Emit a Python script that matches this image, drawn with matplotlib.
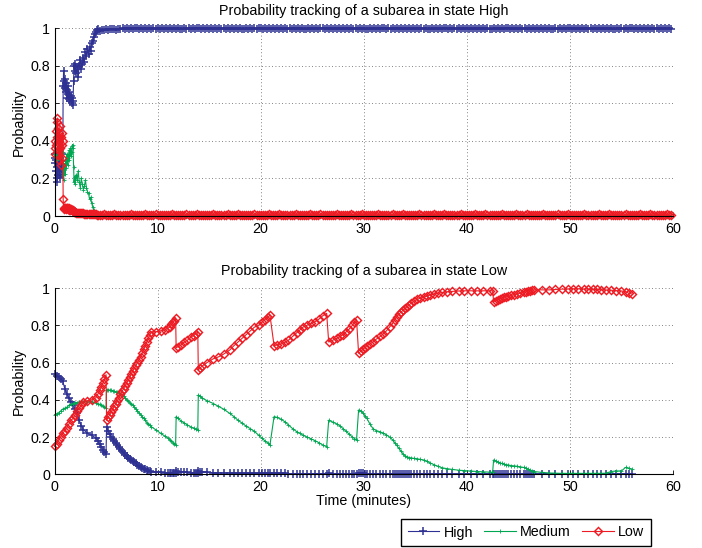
import matplotlib
matplotlib.use("Agg")
import matplotlib.pyplot as plt

plt.rcParams['font.family'] = ['Liberation Sans', 'DejaVu Sans']

BLUE = '#2E3192'
GREEN = '#00A651'
RED = '#ED1C24'

series_names = ['High', 'Medium', 'Low']
titles = ['Probability tracking of a subarea in state High',
          'Probability tracking of a subarea in state Low']
x_ticks = [0, 10, 20, 30, 40, 50, 60]
y_ticks = [0, 0.2, 0.4, 0.6, 0.8, 1.0]
y_tick_labels = ['0', '0.2', '0.4', '0.6', '0.8', '1']

# ---------------- top panel (state High) : first minutes ----------------
t_top_early = [
    0.00, 0.04, 0.08, 0.12, 0.16, 0.20, 0.24, 0.28, 0.32, 0.36, 0.40,
    0.44, 0.48, 0.52, 0.56, 0.60, 0.64, 0.68, 0.72, 0.76, 0.80,
    0.84, 0.88, 0.95, 1.0, 1.05, 1.1, 1.15, 1.2, 1.25, 1.3,
    1.35, 1.4, 1.45, 1.5, 1.55, 1.6, 1.65, 1.7, 1.75, 1.8,
    1.85, 1.9, 1.95, 2.0, 2.1, 2.2, 2.3, 2.4, 2.5, 2.6, 2.7,
    2.8, 2.9, 3.0, 3.1, 3.2, 3.3, 3.4, 3.5, 3.6,
    3.7, 3.8, 3.9, 4.0, 4.1, 4.2,
]
high_top_early = [
    0.31, 0.28, 0.33, 0.24, 0.30, 0.20, 0.26, 0.18, 0.22, 0.30, 0.24,
    0.33, 0.27, 0.21, 0.31, 0.36, 0.25, 0.29, 0.33, 0.22, 0.26,
    0.69, 0.77, 0.72, 0.68, 0.73, 0.66, 0.71, 0.63, 0.67, 0.69,
    0.65, 0.62, 0.66, 0.63, 0.61, 0.64, 0.63, 0.60, 0.59, 0.61,
    0.72, 0.80, 0.77, 0.81, 0.76, 0.79, 0.74, 0.80, 0.83, 0.78, 0.81,
    0.84, 0.82, 0.87, 0.85, 0.89, 0.86, 0.90, 0.88, 0.92,
    0.93, 0.95, 0.97, 0.98, 0.99, 0.995,
]
medium_top_early = [
    0.33, 0.32, 0.34, 0.31, 0.32, 0.30, 0.32, 0.30, 0.31, 0.35, 0.32,
    0.37, 0.33, 0.31, 0.33, 0.37, 0.33, 0.33, 0.36, 0.34, 0.34,
    0.22, 0.19, 0.245, 0.28, 0.225, 0.30, 0.255, 0.33, 0.29, 0.27,
    0.31, 0.35, 0.30, 0.33, 0.36, 0.32, 0.34, 0.37, 0.38, 0.36,
    0.26, 0.18, 0.21, 0.17, 0.22, 0.19, 0.24, 0.18, 0.15, 0.20, 0.17,
    0.14, 0.16, 0.19, 0.15, 0.13, 0.12, 0.09, 0.10, 0.07,
    0.05, 0.03, 0.015, 0.005, 0.0, 0.0,
]
low_top_early = [
    0.36, 0.40, 0.33, 0.45, 0.38, 0.50, 0.42, 0.52, 0.47, 0.35, 0.44,
    0.30, 0.40, 0.48, 0.36, 0.27, 0.42, 0.38, 0.31, 0.44, 0.40,
    0.09, 0.04, 0.035, 0.04, 0.045, 0.04, 0.035, 0.04, 0.045, 0.04,
    0.035, 0.03, 0.04, 0.035, 0.03, 0.035, 0.03, 0.03, 0.025, 0.03,
    0.025, 0.02, 0.02, 0.02, 0.018, 0.018, 0.016, 0.016, 0.015, 0.015, 0.014,
    0.014, 0.013, 0.013, 0.012, 0.012, 0.011, 0.011, 0.010, 0.010,
    0.010, 0.009, 0.008, 0.008, 0.007, 0.006,
]

# ---------------- top panel (state High) : settled part ----------------
t_top_late = [
    4.4, 4.6, 4.8, 5.0, 5.2, 5.4, 5.6, 5.8, 6.0, 6.2,
    6.4, 6.6, 6.8, 7.0, 7.2, 7.4, 7.6, 7.8, 8.0, 8.2,
    8.4, 8.6, 8.8, 9.0, 9.2, 9.4, 9.6, 9.8, 10.0, 10.2,
    10.4, 10.6, 10.8, 11.0, 11.2, 11.4, 11.6, 11.8, 12.0, 12.2,
    12.4, 12.6, 12.8, 13.0, 13.2, 13.4, 13.6, 13.8, 14.0, 14.2,
    14.4, 14.6, 14.8, 15.0, 15.2, 15.4, 15.6, 15.8, 16.0, 16.2,
    16.4, 16.6, 16.8, 17.0, 17.2, 17.4, 17.6, 17.8, 18.0, 18.2,
    18.4, 18.6, 18.8, 19.0, 19.2, 19.4, 19.6, 19.8, 20.0, 20.2,
    20.4, 20.6, 20.8, 21.0, 21.2, 21.4, 21.6, 21.8, 22.0, 22.2,
    22.4, 22.6, 22.8, 23.0, 23.2, 23.4, 23.6, 23.8, 24.0, 24.2,
    24.4, 24.6, 24.8, 25.0, 25.2, 25.4, 25.6, 25.8, 26.0, 26.2,
    26.4, 26.6, 26.8, 27.0, 27.2, 27.4, 27.6, 27.8, 28.0, 28.2,
    28.4, 28.6, 28.8, 29.0, 29.2, 29.4, 29.6, 29.8, 30.0, 30.2,
    30.4, 30.6, 30.8, 31.0, 31.2, 31.4, 31.6, 31.8, 32.0, 32.2,
    32.4, 32.6, 32.8, 33.0, 33.2, 33.4, 33.6, 33.8, 34.0, 34.2,
    34.4, 34.6, 34.8, 35.0, 35.2, 35.4, 35.6, 35.8, 36.0, 36.2,
    36.4, 36.6, 36.8, 37.0, 37.2, 37.4, 37.6, 37.8, 38.0, 38.2,
    38.4, 38.6, 38.8, 39.0, 39.2, 39.4, 39.6, 39.8, 40.0, 40.2,
    40.4, 40.6, 40.8, 41.0, 41.2, 41.4, 41.6, 41.8, 42.0, 42.2,
    42.4, 42.6, 42.8, 43.0, 43.2, 43.4, 43.6, 43.8, 44.0, 44.2,
    44.4, 44.6, 44.8, 45.0, 45.2, 45.4, 45.6, 45.8, 46.0, 46.2,
    46.4, 46.6, 46.8, 47.0, 47.2, 47.4, 47.6, 47.8, 48.0, 48.2,
    48.4, 48.6, 48.8, 49.0, 49.2, 49.4, 49.6, 49.8, 50.0, 50.2,
    50.4, 50.6, 50.8, 51.0, 51.2, 51.4, 51.6, 51.8, 52.0, 52.2,
    52.4, 52.6, 52.8, 53.0, 53.2, 53.4, 53.6, 53.8, 54.0, 54.2,
    54.4, 54.6, 54.8, 55.0, 55.2, 55.4, 55.6, 55.8, 56.0, 56.2,
    56.4, 56.6, 56.8, 57.0, 57.2, 57.4, 57.6, 57.8, 58.0, 58.2,
    58.4, 58.6, 58.8, 59.0, 59.2, 59.4, 59.6, 59.8,
]
high_top_late = [
    0.985, 0.990, 0.988, 0.994, 0.990, 0.996, 0.993, 0.997, 0.991, 0.995,
    0.997, 1.000, 0.993, 0.999, 0.996, 1.000, 0.994, 0.998, 1.000, 0.995,
    0.999, 0.995, 1.000, 0.993, 0.998, 0.997, 1.000, 0.994, 0.999, 0.996,
    1.000, 0.994, 0.998, 0.996, 1.000, 0.993, 0.999, 0.997, 1.000, 0.995,
    0.997, 1.000, 0.993, 0.999, 0.996, 1.000, 0.994, 0.998, 1.000, 0.995,
    0.999, 0.995, 1.000, 0.993, 0.998, 0.997, 1.000, 0.994, 0.999, 0.996,
    1.000, 0.994, 0.998, 0.996, 1.000, 0.993, 0.999, 0.997, 1.000, 0.995,
    0.997, 1.000, 0.993, 0.999, 0.996, 1.000, 0.994, 0.998, 1.000, 0.995,
    0.999, 0.995, 1.000, 0.993, 0.998, 0.997, 1.000, 0.994, 0.999, 0.996,
    1.000, 0.994, 0.998, 0.996, 1.000, 0.993, 0.999, 0.997, 1.000, 0.995,
    0.997, 1.000, 0.993, 0.999, 0.996, 1.000, 0.994, 0.998, 1.000, 0.995,
    0.999, 0.995, 1.000, 0.993, 0.998, 0.997, 1.000, 0.994, 0.999, 0.996,
    1.000, 0.994, 0.998, 0.996, 1.000, 0.993, 0.999, 0.997, 1.000, 0.995,
    0.997, 1.000, 0.993, 0.999, 0.996, 1.000, 0.994, 0.998, 1.000, 0.995,
    0.999, 0.995, 1.000, 0.993, 0.998, 0.997, 1.000, 0.994, 0.999, 0.996,
    1.000, 0.994, 0.998, 0.996, 1.000, 0.993, 0.999, 0.997, 1.000, 0.995,
    0.997, 1.000, 0.993, 0.999, 0.996, 1.000, 0.994, 0.998, 1.000, 0.995,
    0.999, 0.995, 1.000, 0.993, 0.998, 0.997, 1.000, 0.994, 0.999, 0.996,
    1.000, 0.994, 0.998, 0.996, 1.000, 0.993, 0.999, 0.997, 1.000, 0.995,
    0.997, 1.000, 0.993, 0.999, 0.996, 1.000, 0.994, 0.998, 1.000, 0.995,
    0.999, 0.995, 1.000, 0.993, 0.998, 0.997, 1.000, 0.994, 0.999, 0.996,
    1.000, 0.994, 0.998, 0.996, 1.000, 0.993, 0.999, 0.997, 1.000, 0.995,
    0.997, 1.000, 0.993, 0.999, 0.996, 1.000, 0.994, 0.998, 1.000, 0.995,
    0.999, 0.995, 1.000, 0.993, 0.998, 0.997, 1.000, 0.994, 0.999, 0.996,
    1.000, 0.994, 0.998, 0.996, 1.000, 0.993, 0.999, 0.997, 1.000, 0.995,
    0.997, 1.000, 0.993, 0.999, 0.996, 1.000, 0.994, 0.998, 1.000, 0.995,
    0.999, 0.995, 1.000, 0.993, 0.998, 0.997, 1.000, 0.994, 0.999, 0.996,
    1.000, 0.994, 0.998, 0.996, 1.000, 0.993, 0.999, 0.997,
]
medium_top_late = [
    0.0, 0.0, 0.0, 0.0, 0.0, 0.0, 0.0, 0.0, 0.0, 0.0,
    0.0, 0.0, 0.0, 0.0, 0.0, 0.0, 0.0, 0.0, 0.0, 0.0,
    0.0, 0.0, 0.0, 0.0, 0.0, 0.0, 0.0, 0.0, 0.0, 0.0,
    0.0, 0.0, 0.0, 0.0, 0.0, 0.0, 0.0, 0.0, 0.0, 0.0,
    0.0, 0.0, 0.0, 0.0, 0.0, 0.0, 0.0, 0.0, 0.0, 0.0,
    0.0, 0.0, 0.0, 0.0, 0.0, 0.0, 0.0, 0.0, 0.0, 0.0,
    0.0, 0.0, 0.0, 0.0, 0.0, 0.0, 0.0, 0.0, 0.0, 0.0,
    0.0, 0.0, 0.0, 0.0, 0.0, 0.0, 0.0, 0.0, 0.0, 0.0,
    0.0, 0.0, 0.0, 0.0, 0.0, 0.0, 0.0, 0.0, 0.0, 0.0,
    0.0, 0.0, 0.0, 0.0, 0.0, 0.0, 0.0, 0.0, 0.0, 0.0,
    0.0, 0.0, 0.0, 0.0, 0.0, 0.0, 0.0, 0.0, 0.0, 0.0,
    0.0, 0.0, 0.0, 0.0, 0.0, 0.0, 0.0, 0.0, 0.0, 0.0,
    0.0, 0.0, 0.0, 0.0, 0.0, 0.0, 0.0, 0.0, 0.0, 0.0,
    0.0, 0.0, 0.0, 0.0, 0.0, 0.0, 0.0, 0.0, 0.0, 0.0,
    0.0, 0.0, 0.0, 0.0, 0.0, 0.0, 0.0, 0.0, 0.0, 0.0,
    0.0, 0.0, 0.0, 0.0, 0.0, 0.0, 0.0, 0.0, 0.0, 0.0,
    0.0, 0.0, 0.0, 0.0, 0.0, 0.0, 0.0, 0.0, 0.0, 0.0,
    0.0, 0.0, 0.0, 0.0, 0.0, 0.0, 0.0, 0.0, 0.0, 0.0,
    0.0, 0.0, 0.0, 0.0, 0.0, 0.0, 0.0, 0.0, 0.0, 0.0,
    0.0, 0.0, 0.0, 0.0, 0.0, 0.0, 0.0, 0.0, 0.0, 0.0,
    0.0, 0.0, 0.0, 0.0, 0.0, 0.0, 0.0, 0.0, 0.0, 0.0,
    0.0, 0.0, 0.0, 0.0, 0.0, 0.0, 0.0, 0.0, 0.0, 0.0,
    0.0, 0.0, 0.0, 0.0, 0.0, 0.0, 0.0, 0.0, 0.0, 0.0,
    0.0, 0.0, 0.0, 0.0, 0.0, 0.0, 0.0, 0.0, 0.0, 0.0,
    0.0, 0.0, 0.0, 0.0, 0.0, 0.0, 0.0, 0.0, 0.0, 0.0,
    0.0, 0.0, 0.0, 0.0, 0.0, 0.0, 0.0, 0.0, 0.0, 0.0,
    0.0, 0.0, 0.0, 0.0, 0.0, 0.0, 0.0, 0.0, 0.0, 0.0,
    0.0, 0.0, 0.0, 0.0, 0.0, 0.0, 0.0, 0.0,
]
low_top_late = [
    0.006, 0.004, 0.008, 0.005, 0.007, 0.003, 0.006, 0.009, 0.004, 0.005,
    0.005, 0.007, 0.004, 0.006, 0.003, 0.008, 0.005, 0.004, 0.006, 0.007,
    0.006, 0.004, 0.008, 0.005, 0.007, 0.003, 0.006, 0.009, 0.004, 0.005,
    0.005, 0.007, 0.004, 0.006, 0.003, 0.008, 0.005, 0.004, 0.006, 0.007,
    0.006, 0.004, 0.008, 0.005, 0.007, 0.003, 0.006, 0.009, 0.004, 0.005,
    0.005, 0.007, 0.004, 0.006, 0.003, 0.008, 0.005, 0.004, 0.006, 0.007,
    0.006, 0.004, 0.008, 0.005, 0.007, 0.003, 0.006, 0.009, 0.004, 0.005,
    0.005, 0.007, 0.004, 0.006, 0.003, 0.008, 0.005, 0.004, 0.006, 0.007,
    0.006, 0.004, 0.008, 0.005, 0.007, 0.003, 0.006, 0.009, 0.004, 0.005,
    0.005, 0.007, 0.004, 0.006, 0.003, 0.008, 0.005, 0.004, 0.006, 0.007,
    0.006, 0.004, 0.008, 0.005, 0.007, 0.003, 0.006, 0.009, 0.004, 0.005,
    0.005, 0.007, 0.004, 0.006, 0.003, 0.008, 0.005, 0.004, 0.006, 0.007,
    0.006, 0.004, 0.008, 0.005, 0.007, 0.003, 0.006, 0.009, 0.004, 0.005,
    0.005, 0.007, 0.004, 0.006, 0.003, 0.008, 0.005, 0.004, 0.006, 0.007,
    0.006, 0.004, 0.008, 0.005, 0.007, 0.003, 0.006, 0.009, 0.004, 0.005,
    0.005, 0.007, 0.004, 0.006, 0.003, 0.008, 0.005, 0.004, 0.006, 0.007,
    0.006, 0.004, 0.008, 0.005, 0.007, 0.003, 0.006, 0.009, 0.004, 0.005,
    0.005, 0.007, 0.004, 0.006, 0.003, 0.008, 0.005, 0.004, 0.006, 0.007,
    0.006, 0.004, 0.008, 0.005, 0.007, 0.003, 0.006, 0.009, 0.004, 0.005,
    0.005, 0.007, 0.004, 0.006, 0.003, 0.008, 0.005, 0.004, 0.006, 0.007,
    0.006, 0.004, 0.008, 0.005, 0.007, 0.003, 0.006, 0.009, 0.004, 0.005,
    0.005, 0.007, 0.004, 0.006, 0.003, 0.008, 0.005, 0.004, 0.006, 0.007,
    0.006, 0.004, 0.008, 0.005, 0.007, 0.003, 0.006, 0.009, 0.004, 0.005,
    0.005, 0.007, 0.004, 0.006, 0.003, 0.008, 0.005, 0.004, 0.006, 0.007,
    0.006, 0.004, 0.008, 0.005, 0.007, 0.003, 0.006, 0.009, 0.004, 0.005,
    0.005, 0.007, 0.004, 0.006, 0.003, 0.008, 0.005, 0.004, 0.006, 0.007,
    0.006, 0.004, 0.008, 0.005, 0.007, 0.003, 0.006, 0.009, 0.004, 0.005,
    0.005, 0.007, 0.004, 0.006, 0.003, 0.008, 0.005, 0.004,
]

# ---------------- bottom panel (state Low) ----------------
t_bot = [
    0.0, 0.2, 0.4, 0.6, 0.8, 1.0, 1.2, 1.4, 1.6, 1.8, 2.0, 2.2, 2.4, 2.6, 2.8,
    3.2, 3.6, 4.0, 4.2, 4.4, 4.55, 4.7, 4.85, 5.0,
    5.05, 5.2, 5.35, 5.5, 5.65, 5.8, 5.95, 6.1, 6.25, 6.4,
    6.55, 6.7, 6.85, 7.0, 7.15, 7.3, 7.45, 7.6, 7.75, 7.9,
    8.05, 8.2, 8.35, 8.5, 8.65, 8.8, 8.95, 9.1, 9.25, 9.4,
    9.8, 10.3, 10.7, 11.0, 11.2, 11.35, 11.5, 11.6, 11.75,
    11.8, 12.0, 12.3, 12.6, 12.9, 13.2, 13.5, 13.7, 13.9,
    13.95, 14.1, 14.3, 14.8, 15.4, 15.9, 16.4, 17.0, 17.4, 17.8,
    18.2, 18.6, 19.0, 19.4, 19.8, 20.1, 20.4, 20.7, 20.9,
    21.3, 21.6, 22.0, 22.4, 22.7, 23.1, 23.5, 23.8, 24.1, 24.5,
    24.9, 25.3, 25.7, 26.0, 26.4,
    26.6, 27.0, 27.4, 27.7, 28.0, 28.3, 28.6, 28.9, 29.1, 29.3,
    29.5, 29.7, 29.9, 30.1, 30.3, 30.6, 30.9, 31.2, 31.6, 31.9,
    32.2, 32.5, 32.8, 33.0, 33.2, 33.4, 33.6, 33.8, 34.0, 34.2,
    34.4, 34.6, 34.9, 35.2, 35.5, 35.8, 36.1, 36.4, 36.8, 37.2,
    37.6, 38.1, 38.6, 39.2, 39.7, 40.4, 41.0, 41.6, 42.2, 42.5,
    42.6, 42.8, 43.0, 43.2, 43.4, 43.6, 43.8, 44.0, 44.3, 44.6,
    44.9, 45.2, 45.5, 45.7, 45.9, 46.1, 46.3, 46.5,
    47.3, 48.0, 48.6, 49.2, 49.8, 50.3, 50.8, 51.4, 51.8, 52.2,
    52.6, 53.0, 53.5, 54.0, 54.5, 55.0, 55.4, 55.7, 56.0,
]
high_bot = [
    0.54, 0.53, 0.52, 0.51, 0.50, 0.46, 0.43, 0.41, 0.39, 0.37, 0.35, 0.33, 0.29, 0.26, 0.24,
    0.22, 0.21, 0.195, 0.18, 0.16, 0.145, 0.13, 0.12, 0.11,
    0.255, 0.235, 0.215, 0.20, 0.188, 0.178, 0.168, 0.158, 0.148, 0.135,
    0.123, 0.113, 0.105, 0.097, 0.09, 0.083, 0.077, 0.071, 0.065, 0.058,
    0.052, 0.046, 0.04, 0.035, 0.031, 0.027, 0.023, 0.02, 0.017, 0.015,
    0.012, 0.01, 0.009, 0.008, 0.008, 0.008, 0.007, 0.007, 0.007,
    0.018, 0.015, 0.013, 0.011, 0.01, 0.009, 0.009, 0.008, 0.008,
    0.02, 0.015, 0.012, 0.01, 0.009, 0.008, 0.007, 0.007, 0.006, 0.006,
    0.006, 0.005, 0.005, 0.005, 0.005, 0.005, 0.005, 0.005, 0.005,
    0.006, 0.005, 0.005, 0.005, 0.004, 0.004, 0.004, 0.004, 0.004, 0.004,
    0.004, 0.004, 0.004, 0.004, 0.004,
    0.005, 0.004, 0.004, 0.004, 0.004, 0.004, 0.004, 0.004, 0.004, 0.004,
    0.006, 0.005, 0.005, 0.004, 0.004, 0.004, 0.004, 0.004, 0.004, 0.004,
    0.004, 0.004, 0.004, 0.004, 0.003, 0.003, 0.003, 0.003, 0.003, 0.003,
    0.003, 0.003, 0.003, 0.003, 0.003, 0.003, 0.003, 0.003, 0.003, 0.003,
    0.003, 0.003, 0.003, 0.003, 0.003, 0.003, 0.003, 0.003, 0.003, 0.003,
    0.004, 0.004, 0.003, 0.003, 0.003, 0.003, 0.003, 0.003, 0.003, 0.003,
    0.003, 0.003, 0.003, 0.003, 0.003, 0.003, 0.003, 0.003,
    0.003, 0.003, 0.003, 0.003, 0.003, 0.003, 0.003, 0.003, 0.003, 0.003,
    0.003, 0.003, 0.003, 0.003, 0.003, 0.003, 0.003, 0.003, 0.003,
]
medium_bot = [
    0.32, 0.325, 0.33, 0.34, 0.35, 0.355, 0.36, 0.37, 0.375, 0.38, 0.385, 0.385, 0.39, 0.39, 0.39,
    0.39, 0.39, 0.385, 0.38, 0.375, 0.37, 0.365, 0.36, 0.355,
    0.455, 0.455, 0.452, 0.45, 0.448, 0.445, 0.443, 0.44, 0.437, 0.433,
    0.425, 0.418, 0.41, 0.40, 0.392, 0.385, 0.377, 0.37, 0.36, 0.35,
    0.34, 0.33, 0.32, 0.31, 0.30, 0.29, 0.278, 0.27, 0.262, 0.255,
    0.24, 0.22, 0.205, 0.195, 0.185, 0.178, 0.17, 0.165, 0.157,
    0.31, 0.30, 0.285, 0.275, 0.265, 0.255, 0.248, 0.242, 0.238,
    0.426, 0.42, 0.41, 0.395, 0.38, 0.365, 0.35, 0.327, 0.31, 0.29,
    0.275, 0.258, 0.245, 0.23, 0.21, 0.195, 0.18, 0.168, 0.157,
    0.31, 0.305, 0.295, 0.28, 0.265, 0.245, 0.229, 0.22, 0.21, 0.2,
    0.19, 0.18, 0.168, 0.158, 0.148,
    0.29, 0.28, 0.27, 0.26, 0.245, 0.23, 0.215, 0.2, 0.192, 0.184,
    0.345, 0.34, 0.33, 0.315, 0.30, 0.27, 0.245, 0.235, 0.228, 0.22,
    0.212, 0.2, 0.185, 0.17, 0.155, 0.14, 0.125, 0.11, 0.1, 0.094,
    0.09, 0.088, 0.085, 0.083, 0.08, 0.077, 0.07, 0.062, 0.052, 0.043,
    0.035, 0.03, 0.026, 0.022, 0.02, 0.017, 0.015, 0.013, 0.012, 0.011,
    0.077, 0.072, 0.067, 0.062, 0.058, 0.055, 0.052, 0.05, 0.047, 0.045,
    0.043, 0.04, 0.037, 0.033, 0.028, 0.024, 0.02, 0.015,
    0.01, 0.007, 0.006, 0.005, 0.005, 0.005, 0.005, 0.005, 0.005, 0.005,
    0.005, 0.005, 0.006, 0.015, 0.018, 0.018, 0.037, 0.032, 0.028,
]
low_bot = [
    0.15, 0.165, 0.185, 0.20, 0.22, 0.235, 0.25, 0.27, 0.29, 0.30, 0.32, 0.34, 0.355, 0.37, 0.39,
    0.395, 0.40, 0.41, 0.43, 0.45, 0.47, 0.49, 0.51, 0.535,
    0.29, 0.305, 0.32, 0.335, 0.35, 0.365, 0.38, 0.395, 0.41, 0.43,
    0.445, 0.46, 0.475, 0.49, 0.505, 0.52, 0.54, 0.555, 0.57, 0.585,
    0.60, 0.615, 0.63, 0.65, 0.67, 0.69, 0.71, 0.73, 0.75, 0.765,
    0.765, 0.77, 0.775, 0.785, 0.79, 0.805, 0.815, 0.825, 0.84,
    0.68, 0.685, 0.695, 0.71, 0.72, 0.735, 0.745, 0.755, 0.765,
    0.56, 0.57, 0.58, 0.60, 0.62, 0.63, 0.645, 0.667, 0.69, 0.71,
    0.73, 0.75, 0.77, 0.79, 0.80, 0.815, 0.83, 0.845, 0.855,
    0.69, 0.695, 0.70, 0.71, 0.72, 0.74, 0.76, 0.775, 0.79, 0.80,
    0.81, 0.82, 0.835, 0.85, 0.864,
    0.71, 0.72, 0.73, 0.74, 0.75, 0.765, 0.78, 0.80, 0.815, 0.83,
    0.65, 0.66, 0.67, 0.68, 0.69, 0.70, 0.71, 0.725, 0.74, 0.755,
    0.77, 0.79, 0.81, 0.83, 0.846, 0.86, 0.87, 0.88, 0.89, 0.90,
    0.91, 0.918, 0.93, 0.94, 0.945, 0.95, 0.957, 0.962, 0.967, 0.972,
    0.976, 0.98, 0.982, 0.984, 0.985, 0.985, 0.985, 0.985, 0.985, 0.985,
    0.927, 0.932, 0.937, 0.942, 0.946, 0.95, 0.953, 0.956, 0.96, 0.964,
    0.968, 0.972, 0.976, 0.979, 0.982, 0.985, 0.988, 0.99,
    0.99, 0.99, 0.992, 0.994, 0.995, 0.996, 0.996, 0.995, 0.994, 0.993,
    0.992, 0.991, 0.99, 0.988, 0.986, 0.984, 0.98, 0.972, 0.968,
]

t_top = t_top_early + t_top_late
high_top = high_top_early + high_top_late
medium_top = medium_top_early + medium_top_late
low_top = low_top_early + low_top_late

for arr in (high_top, medium_top, low_top):
    assert len(arr) == len(t_top), (len(arr), len(t_top))
for arr in (high_bot, medium_bot, low_bot):
    assert len(arr) == len(t_bot), (len(arr), len(t_bot))

FS = 10.3
W, H = 702, 548
fig = plt.figure(figsize=(W / 100, H / 100), dpi=100)
x0, x1 = 54.5, 673.0
ax_top = fig.add_axes([x0 / W, 1 - 216.0 / H, (x1 - x0) / W, 188.0 / H])
ax_bot = fig.add_axes([x0 / W, 1 - 474.3 / H, (x1 - x0) / W, 186.3 / H])


def draw(ax, t, hi, me, lo, title):
    lines = []
    lines += ax.plot(t, hi, color=BLUE, lw=0.8, marker='+', ms=6, mew=1.1,
                     clip_on=False, label=series_names[0])
    lines += ax.plot(t, me, color=GREEN, lw=0.8, marker='+', ms=2.2, mew=0.6,
                     clip_on=False, label=series_names[1])
    lines += ax.plot(t, lo, color=RED, lw=0.8, marker='D', ms=4.5, mfc='none',
                     mew=1.05, clip_on=False, label=series_names[2])
    ax.set_xlim(0, 60)
    ax.set_ylim(0, 1)
    ax.set_xticks(x_ticks)
    ax.set_yticks(y_ticks)
    ax.set_yticklabels(y_tick_labels)
    for s in ('top', 'right'):
        ax.spines[s].set_visible(False)
    for s in ('left', 'bottom'):
        ax.spines[s].set_linewidth(0.8)
    ax.tick_params(direction='in', length=3, width=0.6, top=False, right=False,
                   labelsize=FS)
    ax.tick_params(axis='x', pad=4)
    ax.tick_params(axis='y', pad=3)
    ax.grid(True, linestyle=(0, (1, 3)), color='0.35', lw=0.6)
    ax.set_axisbelow(True)
    ax.set_title(title, fontsize=FS, pad=9)
    ax.set_ylabel('Probability', fontsize=FS)
    ax.yaxis.set_label_coords(-0.047, 0.5)
    return lines


draw(ax_top, t_top, high_top, medium_top, low_top, titles[0])
handles = draw(ax_bot, t_bot, high_bot, medium_bot, low_bot, titles[1])
ax_bot.set_xlabel('Time (minutes)', fontsize=FS)
ax_bot.xaxis.set_label_coords(0.5, -0.105)

leg = fig.legend(handles, series_names, loc='center',
                 bbox_to_anchor=(526 / W, 1 - 532.5 / H), ncol=3,
                 frameon=True, fancybox=False, edgecolor='black', framealpha=1,
                 handlelength=2.2, handletextpad=0.3, columnspacing=0.8,
                 borderpad=0.45, fontsize=FS, borderaxespad=0)
leg.get_frame().set_linewidth(1.0)

fig.savefig('out.png', dpi=100, facecolor='white')
